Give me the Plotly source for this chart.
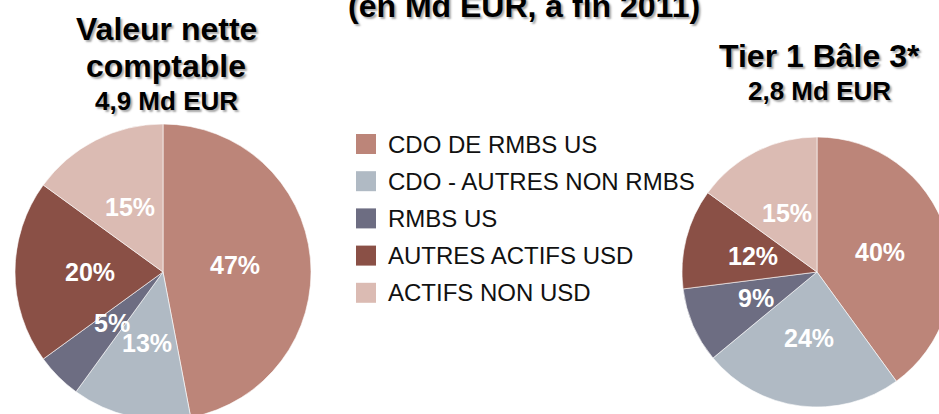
import math
import plotly.graph_objects as go

# ---------------- data ----------------
categories = ["CDO DE RMBS US", "CDO - AUTRES NON RMBS", "RMBS US",
              "AUTRES ACTIFS USD", "ACTIFS NON USD"]
valeur_nette = [47, 13, 5, 20, 15]      # % of 4,9 Md EUR
tier1_bale3 = [40, 24, 9, 12, 15]       # % of 2,8 Md EUR
colors = ["#BC8579", "#B0BAC4", "#6D6D82", "#8A5046", "#DBBBB3"]

main_title = "(en Md EUR, à fin 2011)"
left_title = ["Valeur nette", "comptable"]
left_sub = "4,9 Md EUR"
right_title = "Tier 1 Bâle 3*"
right_sub = "2,8 Md EUR"

# ---------------- layout helpers ----------------
W, H = 970, 430
FONT = "Liberation Sans, Arial, sans-serif"
SHADOW = "2px 2px 2px rgba(0,0,0,0.35)"


def px(x):
    return x / W


def py(y):
    return 1 - y / H


def dom(cx, cy, r):
    return dict(x=[px(cx - r), px(cx + r)], y=[py(cy + r), py(cy - r)])


pies = [
    (valeur_nette, (163, 272, 148)),
    (tier1_bale3, (817, 272, 135)),
]

fig = go.Figure()
annotations = []

for vals, (cx, cy, r) in pies:
    fig.add_trace(go.Pie(
        values=vals, labels=categories, sort=False,
        direction="clockwise", rotation=0,
        marker=dict(colors=colors, line=dict(color="rgba(255,255,255,0.6)", width=1)),
        textinfo="none", hoverinfo="label+percent", showlegend=False,
        domain=dom(cx, cy, r),
    ))
    total = float(sum(vals))
    cum = 0.0
    for v in vals:
        mid = (cum + v / 2.0) / total * 2 * math.pi
        cum += v
        lx = cx + 0.49 * r * math.sin(mid)
        ly = cy - 0.49 * r * math.cos(mid)
        annotations.append(dict(
            x=px(lx), y=py(ly), xref="paper", yref="paper",
            text=f"{v}%", showarrow=False, xanchor="center", yanchor="middle",
            font=dict(family=FONT, size=25, color="white", weight="bold"),
        ))


def title_line(text, x, baseline, size):
    return dict(
        x=px(x), y=py(baseline - 0.35 * size), xref="paper", yref="paper",
        text=text, showarrow=False, xanchor="center", yanchor="middle",
        font=dict(family=FONT, size=size, color="black", weight="bold", shadow=SHADOW),
    )


annotations.append(title_line(main_title, 524, 17, 32))
annotations.append(title_line(left_title[0], 166, 40, 32))
annotations.append(title_line(left_title[1], 166, 77, 32))
annotations.append(title_line(left_sub, 166, 110, 26))
annotations.append(title_line(right_title, 819, 67, 32))
annotations.append(title_line(right_sub, 819, 100, 26))

# ---------------- custom legend ----------------
shapes = []
leg_x0, leg_y0, leg_dy, sq = 356, 144, 37.2, 20
for i, (cat, col) in enumerate(zip(categories, colors)):
    yc = leg_y0 + i * leg_dy
    shapes.append(dict(type="rect", xref="paper", yref="paper",
                       x0=px(leg_x0), x1=px(leg_x0 + sq),
                       y0=py(yc + sq / 2), y1=py(yc - sq / 2),
                       fillcolor=col, line=dict(width=0)))
    annotations.append(dict(
        x=px(leg_x0 + sq + 10), y=py(yc), xref="paper", yref="paper",
        text=cat, showarrow=False, xanchor="left", yanchor="middle",
        font=dict(family=FONT, size=24, color="#111111"),
    ))

fig.update_layout(
    width=W, height=H,
    margin=dict(l=0, r=0, t=0, b=0),
    paper_bgcolor="white", plot_bgcolor="white",
    annotations=annotations, shapes=shapes,
    showlegend=False,
)

fig.write_html(
    "out.html",
    config={"displayModeBar": False},
    post_script=("document.body.style.margin='0';"
                 "document.body.style.overflow='hidden';"
                 "document.documentElement.style.overflow='hidden';"),
)
